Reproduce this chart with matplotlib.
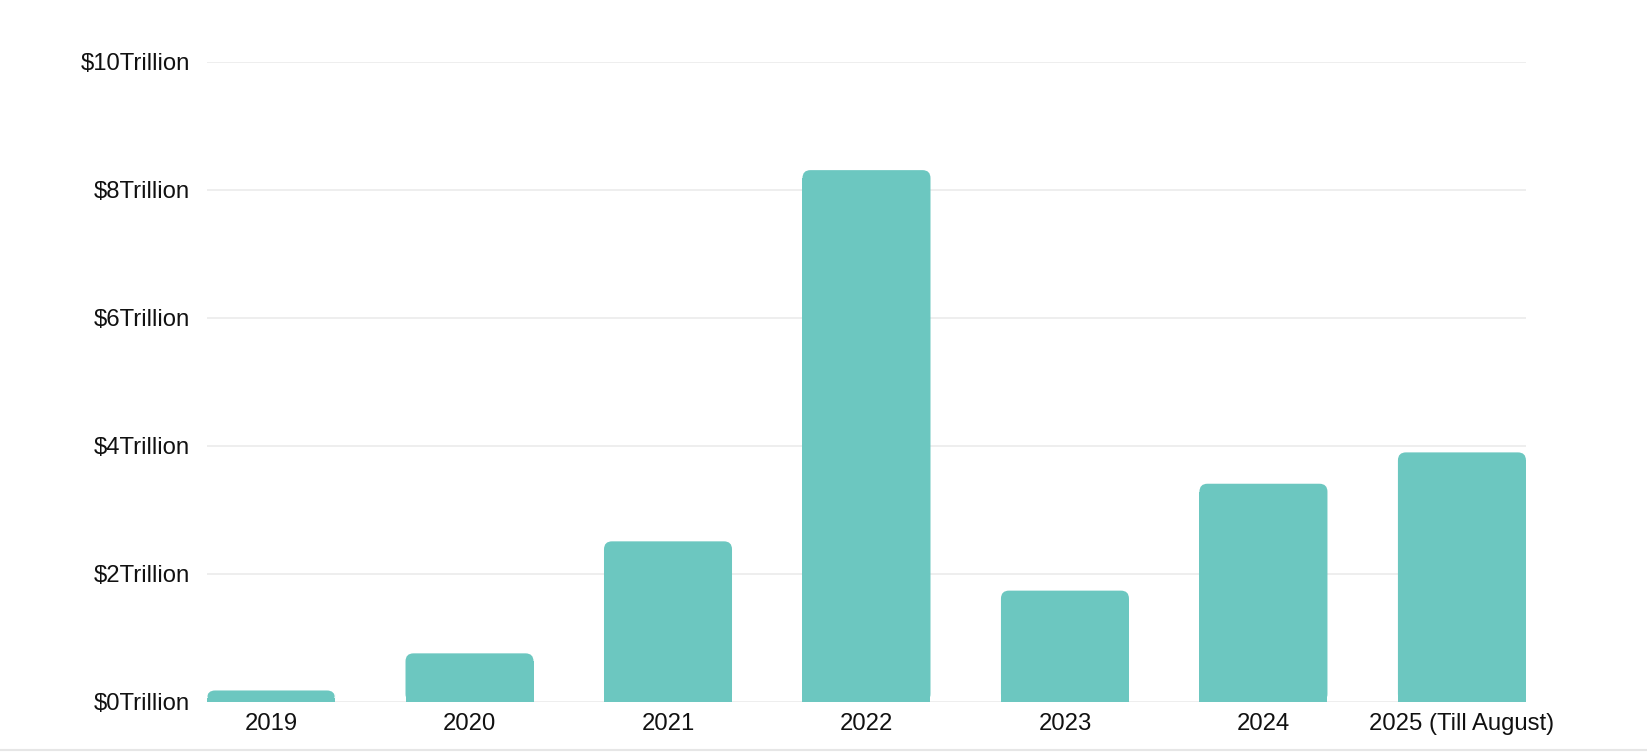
import matplotlib.pyplot as plt
from matplotlib.patches import FancyBboxPatch
from matplotlib.lines import Line2D

years = ["2019", "2020", "2021", "2022", "2023", "2024", "2025 (Till August)"]
volume = [0.18, 0.76, 2.51, 8.31, 1.74, 3.41, 3.90]  # trillion USD
yticks = [0, 2, 4, 6, 8, 10]
ytick_labels = ["$%dTrillion" % t for t in yticks]

bar_color = "#6cc7c0"
grid_color = "#ebebeb"

plt.rcParams["font.family"] = ["Liberation Sans", "DejaVu Sans"]

fig = plt.figure(figsize=(16.47, 7.52), dpi=100)
ax = fig.add_axes([0.1257, 0.0665, 0.8008, 0.8511])

width = 0.645
x = list(range(len(years)))

ax.set_xlim(-width / 2, len(years) - 1 + width / 2)
ax.set_ylim(0, 10)

# pixels per data unit, to keep the corner round
px_x = ax.get_position().width * fig.get_figwidth() * fig.dpi / (ax.get_xlim()[1] - ax.get_xlim()[0])
px_y = ax.get_position().height * fig.get_figheight() * fig.dpi / 10
aspect = px_x / px_y
r = 8 / px_x  # corner radius in x units

for xi, v in zip(x, volume):
    ry = r * aspect
    ax.bar(xi, max(v - ry, 0), width=width, color=bar_color, zorder=3)
    patch = FancyBboxPatch((xi - width / 2, 0), width, v,
                           boxstyle="round,pad=0,rounding_size=%f" % r,
                           mutation_aspect=aspect,
                           facecolor=bar_color, edgecolor="none", zorder=3)
    ax.add_patch(patch)

ax.set_yticks(yticks)
ax.set_yticklabels(ytick_labels)
ax.set_xticks(x)
ax.set_xticklabels(years)
ax.yaxis.grid(True, color=grid_color, linewidth=1.2, zorder=0)
ax.set_axisbelow(True)
for s in ax.spines.values():
    s.set_visible(False)
ax.tick_params(axis="both", length=0, labelsize=17.2, colors="#111111")
ax.tick_params(axis="y", pad=12)
ax.tick_params(axis="x", pad=8)

fig.add_artist(Line2D([0, 1], [0.003, 0.003], transform=fig.transFigure,
                      color="#e6e6e6", linewidth=1.5))

fig.savefig("out.png", dpi=100, facecolor="white")
